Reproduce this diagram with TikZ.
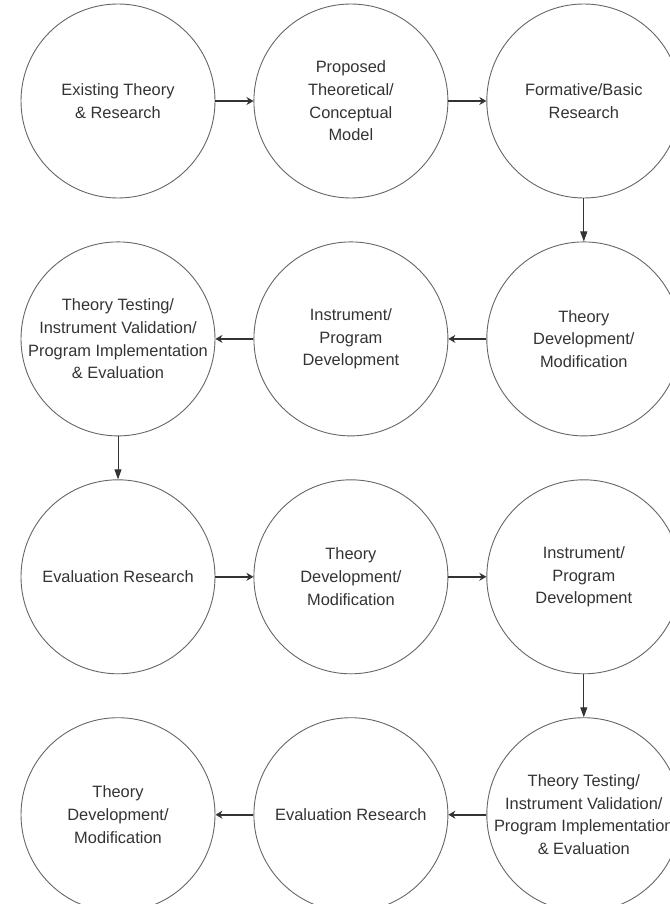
\documentclass[tikz,border=0pt]{standalone}
\usepackage{fontspec}
\setmainfont{Liberation Sans}
\usepackage{tikz}
\usetikzlibrary{positioning,arrows.meta}
\definecolor{ink}{HTML}{333333}
\definecolor{rim}{HTML}{666666}
\tikzset{node distance=43pt and 38pt,
  stage/.style={circle, draw=rim, line width=0.9pt, minimum size=194pt,
    inner sep=-4pt, align=center, text=ink,
    font=\fontsize{16.4pt}{22.7pt}\selectfont},
  flowarrow/.style={draw=ink, line width=2pt, -{Stealth[length=7pt,width=8pt]}},
  droparrow/.style={draw=ink, line width=1pt, -{Triangle[length=10pt,width=7pt]}}}

\begin{document}
\begin{tikzpicture}[x=1pt, y=-1pt]
\useasboundingbox (0,0) rectangle (669,904);
\node[stage] (exist) at (118,101) {Existing Theory\\\& Research};
\node[stage, right=of exist] (model) {Proposed\\Theoretical/\\Conceptual\\Model};
\node[stage, right=of model] (formative) {Formative/Basic\\Research};
\node[stage, below=of formative] (devA) {Theory\\Development/\\Modification};
\node[stage, left=of devA] (instA) {Instrument/\\Program\\Development};
\node[stage, left=of instA] (testA) {Theory Testing/\\Instrument Validation/\\Program Implementation\\\& Evaluation};
\node[stage, below=of testA] (evalA) {Evaluation Research};
\node[stage, right=of evalA] (devB) {Theory\\Development/\\Modification};
\node[stage, right=of devB] (instB) {Instrument/\\Program\\Development};
\node[stage, below=of instB] (testB) {Theory Testing/\\Instrument Validation/\\Program Implementation\\\& Evaluation};
\node[stage, left=of testB] (evalB) {Evaluation Research};
\node[stage, left=of evalB] (devC) {Theory\\Development/\\Modification};

\draw[flowarrow] (exist) -- (model);
\draw[flowarrow] (model) -- (formative);
\draw[droparrow] (formative) -- (devA);
\draw[flowarrow] (devA) -- (instA);
\draw[flowarrow] (instA) -- (testA);
\draw[droparrow] (testA) -- (evalA);
\draw[flowarrow] (evalA) -- (devB);
\draw[flowarrow] (devB) -- (instB);
\draw[droparrow] (instB) -- (testB);
\draw[flowarrow] (testB) -- (evalB);
\draw[flowarrow] (evalB) -- (devC);
\end{tikzpicture}
\end{document}
